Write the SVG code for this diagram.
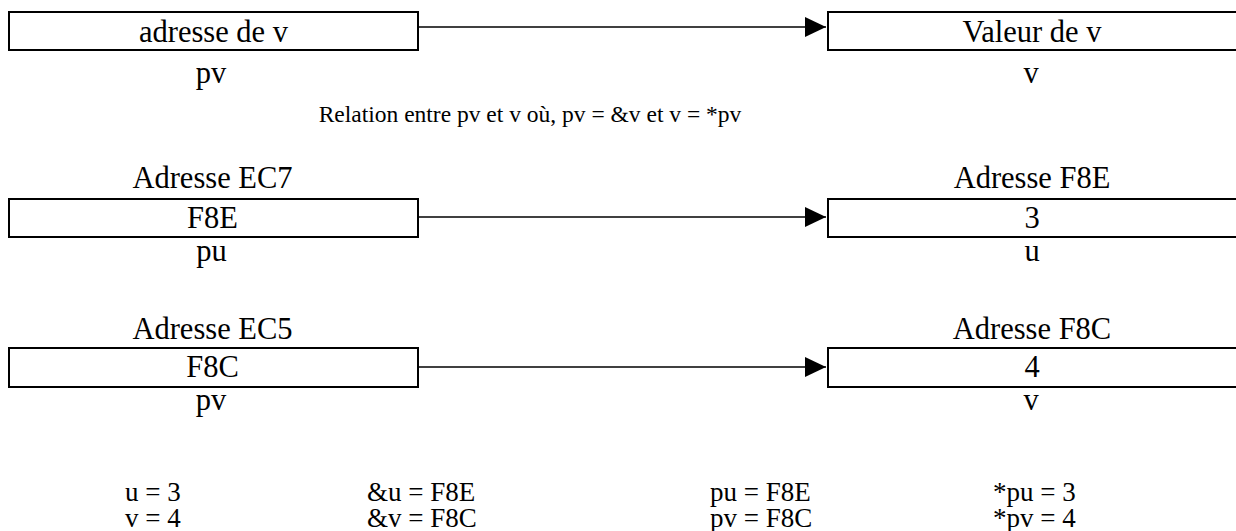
<svg xmlns="http://www.w3.org/2000/svg" width="1236" height="531" viewBox="0 0 1236 531">
<style>
text{font-family:"Liberation Serif","Times New Roman",serif;font-size:30.5px;fill:#000}
.c{text-anchor:middle}
.cap{font-size:23.5px}
.sum{font-size:27px}
.box{fill:#fff;stroke:#000;stroke-width:2}
.arr{stroke:#000;stroke-width:1.6;fill:none;marker-end:url(#ah)}
</style>
<defs>
<marker id="ah" viewBox="0 0 21 20" refX="21" refY="10" markerWidth="21" markerHeight="20" markerUnits="userSpaceOnUse" orient="auto">
<path d="M0,0 L21,10 L0,20 Z" fill="#000"/>
</marker>
</defs>
<rect width="1236" height="531" fill="#fff"/>
<g id="connectors">
<line class="arr" x1="418" y1="27" x2="826" y2="27"/>
<line class="arr" x1="418" y1="217" x2="826" y2="217"/>
<line class="arr" x1="418" y1="367" x2="826" y2="367"/>
</g>
<g id="n_pv1">
<rect class="box" x="9" y="12" width="409" height="38"/>
<text class="c" x="213.5" y="42">adresse de v</text>
<text class="c" x="211" y="83">pv</text>
</g>
<g id="n_v1">
<rect class="box" x="828" y="12" width="420" height="38"/>
<text class="c" x="1032" y="42">Valeur de v</text>
<text class="c" x="1031" y="83">v</text>
</g>
<g id="caption">
<text class="c cap" x="530" y="122">Relation entre pv et v où, pv = &amp;v et v = *pv</text>
</g>
<g id="n_pu">
<text class="c" x="212.5" y="188">Adresse EC7</text>
<rect class="box" x="9" y="199" width="409" height="38"/>
<text class="c" x="212.5" y="228">F8E</text>
<text class="c" x="211.5" y="261">pu</text>
</g>
<g id="n_u">
<text class="c" x="1032" y="188">Adresse F8E</text>
<rect class="box" x="828" y="199" width="420" height="38"/>
<text class="c" x="1032" y="228">3</text>
<text class="c" x="1032" y="261">u</text>
</g>
<g id="n_pv2">
<text class="c" x="212.5" y="339">Adresse EC5</text>
<rect class="box" x="9" y="348" width="409" height="39"/>
<text class="c" x="212.5" y="377">F8C</text>
<text class="c" x="211" y="410">pv</text>
</g>
<g id="n_v2">
<text class="c" x="1032" y="339">Adresse F8C</text>
<rect class="box" x="828" y="348" width="420" height="39"/>
<text class="c" x="1032" y="377">4</text>
<text class="c" x="1031" y="410">v</text>
</g>
<g id="summary">
<text class="sum" x="125" y="501">u = 3</text>
<text class="sum" x="125" y="527">v = 4</text>
<text class="sum" x="367" y="501">&amp;u = F8E</text>
<text class="sum" x="367" y="527">&amp;v = F8C</text>
<text class="sum" x="710" y="501">pu = F8E</text>
<text class="sum" x="710" y="527">pv = F8C</text>
<text class="sum" x="993" y="501">*pu = 3</text>
<text class="sum" x="993" y="527">*pv = 4</text>
</g>
</svg>
